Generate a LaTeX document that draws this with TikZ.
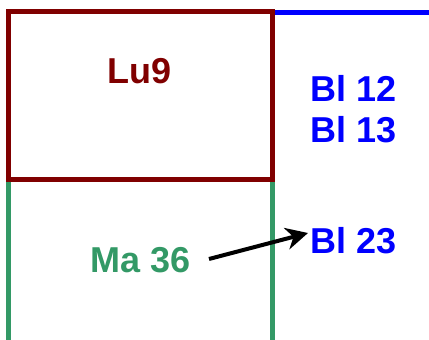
\documentclass[tikz,border=0pt]{standalone}
\usepackage{fontspec}
\setmainfont{Liberation Sans}
\usetikzlibrary{arrows.meta}
\definecolor{lured}{RGB}{128,0,0}
\definecolor{magreen}{RGB}{51,153,102}
\definecolor{blblue}{RGB}{0,0,255}
\begin{document}
\begin{tikzpicture}[x=1pt,y=-1pt,
  lbl/.style={font=\fontsize{36}{38}\selectfont\bfseries, anchor=base, inner sep=0pt},
  edge/.style={line width=5pt}]
\useasboundingbox (0,0) rectangle (429,340);
\coordinate (tl) at (8.5,11.5);
\coordinate (br) at (272,179.5);
\coordinate (gl) at (8.5,340);
\coordinate (gr) at (272,340);
\coordinate (bt) at (272,12);
\coordinate (be) at (429,12);
\draw[edge, magreen] (8.5,179.5) -- (gl);
\draw[edge, magreen] (br) -- (gr);
\draw[edge, blblue] (bt) -- (be);
\draw[edge, lured] (tl) rectangle (br);
\node[lbl, text=lured] (lu) at (140,83) {Lu9};
\node[lbl, text=blblue] (b12) at (353.5,101) {Bl 12};
\node[lbl, text=blblue] (b13) at (353.5,142) {Bl 13};
\node[lbl, text=blblue] (b23) at (353.5,253) {Bl 23};
\node[lbl, text=magreen] (ma) at (140.5,272) {Ma 36};
\coordinate (as) at (209,259);
\coordinate (ae) at (308,233);
\draw[line width=4pt, -{Stealth[length=22pt,width=22pt,inset=7pt]}] (as) -- (ae);
\end{tikzpicture}
\end{document}
